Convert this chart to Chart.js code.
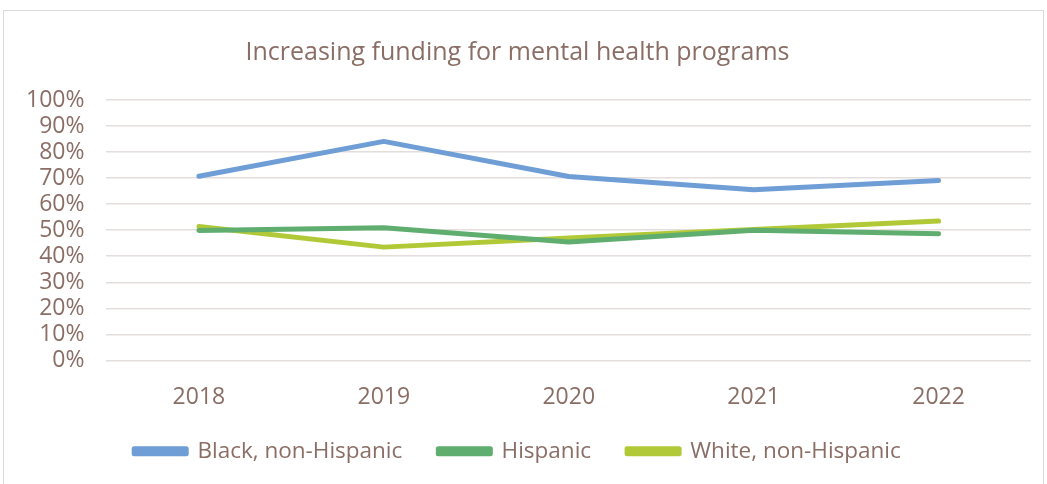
<!DOCTYPE html>
<html>
<head>
<meta charset="utf-8">
<script src="https://cdn.jsdelivr.net/npm/chart.js@4.4.0/dist/chart.umd.min.js"></script>
<style>
  html, body { margin: 0; padding: 0; background: #fff; }
  #wrap {
    position: absolute; left: 3px; top: 10px;
    width: 1041px; height: 480px;
    border: 1px solid #d9d9d9; box-sizing: border-box;
  }
</style>
</head>
<body>
<div id="wrap"><canvas id="chart"></canvas></div>
<script>
const years = ['2018', '2019', '2020', '2021', '2022'];
const black = [70.7, 84.1, 70.6, 65.5, 69.1];
const hispanic = [49.9, 50.9, 45.5, 50.0, 48.6];
const white = [51.4, 43.5, 47.0, 50.3, 53.5];
const yTicks = [0, 10, 20, 30, 40, 50, 60, 70, 80, 90, 100];

const textColor = '#8a6e66';
const fontFamily = "'Open Sans', 'Noto Sans', sans-serif";

// nudge the legend row up towards the year labels, keep its clip box tall enough
const liftLegend = {
    id: 'liftLegend',
    afterLayout(chart) {
        const lg = chart.legend;
        if (!lg) return;
        lg.top -= 22;
        lg.bottom = chart.height;
    }
};

document.addEventListener('DOMContentLoaded', function() {
    const ctx = document.getElementById('chart').getContext('2d');

    new Chart(ctx, {
        type: 'line',
        data: {
            labels: years,
            datasets: [
                { label: 'Black, non-Hispanic', data: black, borderColor: '#6f9dd6', backgroundColor: '#6f9dd6' },
                { label: 'Hispanic', data: hispanic, borderColor: '#5fae70', backgroundColor: '#5fae70' },
                { label: 'White, non-Hispanic', data: white, borderColor: '#b2c937', backgroundColor: '#b2c937' }
            ]
        },
        options: {
            responsive: true,
            maintainAspectRatio: false,
            animation: false,
            elements: {
                line: { borderWidth: 5, tension: 0, borderCapStyle: 'round', borderJoinStyle: 'round' },
                point: { radius: 0, hoverRadius: 0 }
            },
            layout: { padding: { left: 0, right: 12, top: 8, bottom: 17 } },
            plugins: {
                title: {
                    display: true,
                    text: 'Increasing funding for mental health programs',
                    color: textColor,
                    font: { family: fontFamily, size: 25, weight: 'normal' },
                    padding: { top: 19, bottom: 32 }
                },
                legend: {
                    position: 'bottom',
                    maxHeight: 46,
                    labels: {
                        color: textColor,
                        font: { family: fontFamily, size: 22.5 },
                        boxWidth: 52,
                        boxHeight: 5,
                        padding: 36
                    }
                },
                tooltip: { enabled: false }
            },
            scales: {
                x: {
                    offset: true,
                    grid: { display: false },
                    border: { display: false },
                    ticks: { color: textColor, font: { family: fontFamily, size: 23 }, padding: 15 }
                },
                y: {
                    min: 0,
                    max: 100,
                    afterBuildTicks: function(axis) {
                        axis.ticks = yTicks.map(v => ({ value: v }));
                    },
                    grid: { color: '#e3dedb', lineWidth: 1.5, drawTicks: false },
                    border: { display: false },
                    ticks: {
                        autoSkip: false,
                        color: textColor,
                        font: { family: fontFamily, size: 23 },
                        padding: 22,
                        callback: v => v + '%'
                    }
                }
            }
        },
        plugins: [liftLegend]
    });
});
</script>
</body>
</html>
